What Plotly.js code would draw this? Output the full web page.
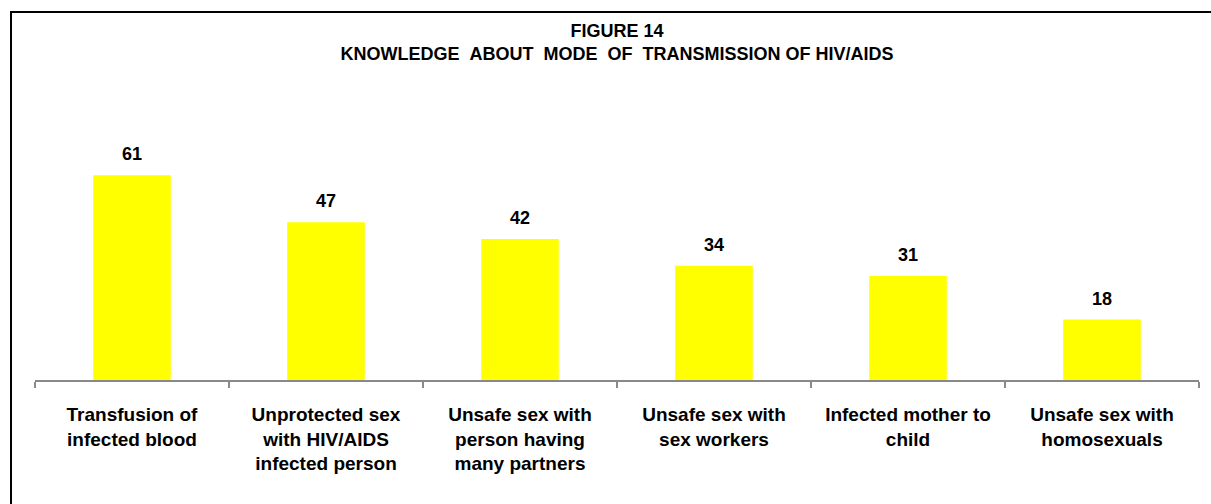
<!DOCTYPE html>
<html>
<head>
<meta charset="utf-8">
<script src="https://cdn.plot.ly/plotly-3.0.1.min.js"></script>
<style>
  html, body { margin: 0; padding: 0; background: #ffffff; overflow: hidden; }
  #frame { position: absolute; left: 10px; top: 11px; width: 1300px; height: 600px;
           border-left: 2px solid #000; border-top: 2px solid #000; }
  #chart { position: absolute; left: 0; top: 0; width: 1211px; height: 504px; }
</style>
</head>
<body>
<div id="frame"></div>
<div id="chart"></div>
<script>
const categories = [
  "Transfusion of infected blood",
  "Unprotected sex with HIV/AIDS infected person",
  "Unsafe sex with person having many partners",
  "Unsafe sex with sex workers",
  "Infected mother to child",
  "Unsafe sex with homosexuals"
];
const tickLabels = [
  "Transfusion of<br>infected blood",
  "Unprotected sex<br>with HIV/AIDS<br>infected person",
  "Unsafe sex with<br>person having<br>many partners",
  "Unsafe sex with<br>sex workers",
  "Infected mother to<br>child",
  "Unsafe sex with<br>homosexuals"
];
const values = [61, 47, 42, 34, 31, 18];
const titleLines = ["FIGURE 14", "KNOWLEDGE\u00a0\u00a0ABOUT\u00a0\u00a0MODE\u00a0\u00a0OF\u00a0\u00a0TRANSMISSION OF HIV/AIDS"];

const font = "Arial, 'Liberation Sans', Helvetica, sans-serif";

const trace = {
  type: "bar",
  x: categories,
  y: values,
  marker: { color: "#ffff00", line: { width: 0 } },
  hoverinfo: "x+y"
};

const annotations = categories.map((c, i) => ({
  x: c, y: values[i], xref: "x", yref: "y",
  text: "<b>" + values[i] + "</b>",
  showarrow: false, yanchor: "bottom", yshift: 9,
  font: { family: font, size: 18, color: "#000" }
}));

const layout = {
  width: 1211, height: 504,
  margin: { l: 35, r: 12, t: 145, b: 124 },
  paper_bgcolor: "rgba(0,0,0,0)",
  plot_bgcolor: "rgba(0,0,0,0)",
  bargap: 0.6,
  showlegend: false,
  title: {
    text: "<b>" + titleLines.join("<br>") + "</b>",
    font: { family: font, size: 18, color: "#000" },
    x: 0.5, xref: "paper", xanchor: "center",
    y: 0.927, yref: "container", yanchor: "top"
  },
  xaxis: {
    type: "category",
    tickvals: categories,
    ticktext: tickLabels.map(t => "<b>" + t + "</b>"),
    tickson: "boundaries",
    ticks: "outside", ticklen: 6, tickwidth: 2, tickcolor: "#898989",
    ticklabelstandoff: 16,
    showline: true, linecolor: "#898989", linewidth: 2,
    showgrid: false, zeroline: false,
    tickangle: 0,
    tickfont: { family: font, size: 19, color: "#000" }
  },
  yaxis: {
    range: [0, 70],
    visible: false,
    showgrid: false, zeroline: false
  },
  annotations: annotations
};

Plotly.newPlot("chart", [trace], layout, { displayModeBar: false, staticPlot: true });
</script>
</body>
</html>
